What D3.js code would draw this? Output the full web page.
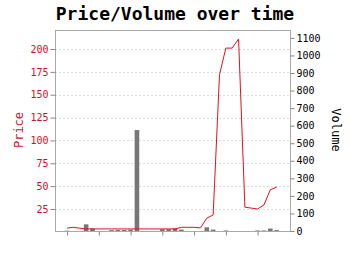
<!DOCTYPE html>
<html>
<head>
<meta charset="utf-8">
<script src="https://cdn.jsdelivr.net/npm/d3@7"></script>
<style>
  body { margin: 0; background: #fff; }
  svg { display: block; font-family: "DejaVu Sans Mono", monospace; }
  .grid line { stroke: #ddd; stroke-dasharray: 2,2; }
  .axis path, .axis line { stroke: #888; }
</style>
</head>
<body>
<svg id="chart" width="350" height="255"></svg>
<script>
// one entry per trading day
var days   = [0,1,2,3,4,5,6,7,8,9,10,11,12,13,14,15,16,17,18,19,20,21,22,23,24,25,26,27,28,29,30,31,32,33];
var price  = [4,5,4,3.2,3.2,3.2,3.2,3.2,3.2,3.2,3.2,3.2,3.2,3.2,3.2,3.2,3.2,3.2,5,5,5,4.3,15,18.5,172,201,201,211,27,26,25,29.5,46,49];
var volume = [2,0,0,38,15,0,0,5,6,6,8,575,0,0,0,10,10,15,8,0,0,0,21,8,0,3,0,0,0,0,3,3,14,5];
var priceTicks  = [25,50,75,100,125,150,175,200];
var volumeTicks = [0,100,200,300,400,500,600,700,800,900,1000,1100];

var svg = d3.select("#chart");
var plotL = 55, plotR = 290, plotT = 30, plotB = 231;

var x = d3.scaleLinear().domain([-1.9, 35.1]).range([plotL, plotR]);
var yP = d3.scaleLinear().domain([0.94, 220.8]).range([plotB, plotT]);
var yV = d3.scaleLinear().domain([0, 1145]).range([plotB, plotT]);

// title
svg.append("text")
   .attr("x", 175).attr("y", 20)
   .attr("text-anchor", "middle")
   .attr("font-size", 18).attr("font-weight", "bold")
   .text("Price/Volume over time");

// grid
svg.append("g").attr("class", "grid")
   .selectAll("line").data(priceTicks).enter().append("line")
   .attr("x1", plotL).attr("x2", plotR)
   .attr("y1", function(d) { return Math.round(yP(d)) + 0.5; })
   .attr("y2", function(d) { return Math.round(yP(d)) + 0.5; });

// volume bars
svg.append("g").selectAll("rect").data(days).enter().append("rect")
   .attr("x", function(d) { return x(d) - 2.3; })
   .attr("width", 4.6)
   .attr("y", function(d, i) { return yV(volume[i]); })
   .attr("height", function(d, i) { return plotB - yV(volume[i]); })
   .attr("fill", "#777");

// price line
svg.append("path")
   .datum(days)
   .attr("fill", "none")
   .attr("stroke", "#e01020")
   .attr("stroke-width", 1)
   .attr("d", d3.line().x(function(d) { return x(d); }).y(function(d, i) { return yP(price[i]); }));

// frame
svg.append("rect")
   .attr("x", plotL + 0.5).attr("y", plotT + 0.5)
   .attr("width", plotR - plotL).attr("height", plotB - plotT)
   .attr("fill", "none").attr("stroke", "#aaa");

// axes
var gl = svg.append("g").attr("class", "axis")
   .attr("transform", "translate(" + (plotL + 0.5) + ",0)")
   .call(d3.axisLeft(yP).tickValues(priceTicks).tickSize(5).tickPadding(2).tickFormat(d3.format("d")));
gl.select(".domain").remove();
gl.selectAll("text").attr("fill", "#d0102a").attr("font-size", 10).attr("font-family", "DejaVu Sans Mono");

var gr = svg.append("g").attr("class", "axis")
   .attr("transform", "translate(" + (plotR + 0.5) + ",0)")
   .call(d3.axisRight(yV).tickValues(volumeTicks).tickSize(4).tickPadding(2).tickFormat(d3.format("d")));
gr.select(".domain").remove();
gr.selectAll("text").attr("fill", "#000").attr("font-size", 10).attr("font-family", "DejaVu Sans Mono");

var gb = svg.append("g").attr("class", "axis")
   .attr("transform", "translate(0," + (plotB + 0.5) + ")")
   .call(d3.axisBottom(x).tickValues([0,5,10,15,20,25,30]).tickSize(4).tickFormat(""));
gb.select(".domain").remove();

// axis titles
svg.append("text")
   .attr("transform", "translate(23,130) rotate(-90)")
   .attr("text-anchor", "middle")
   .attr("font-size", 12).attr("fill", "#d0102a")
   .text("Price");

svg.append("text")
   .attr("transform", "translate(332,130) rotate(90)")
   .attr("text-anchor", "middle")
   .attr("font-size", 12).attr("fill", "#000")
   .text("Volume");
</script>
</body>
</html>
